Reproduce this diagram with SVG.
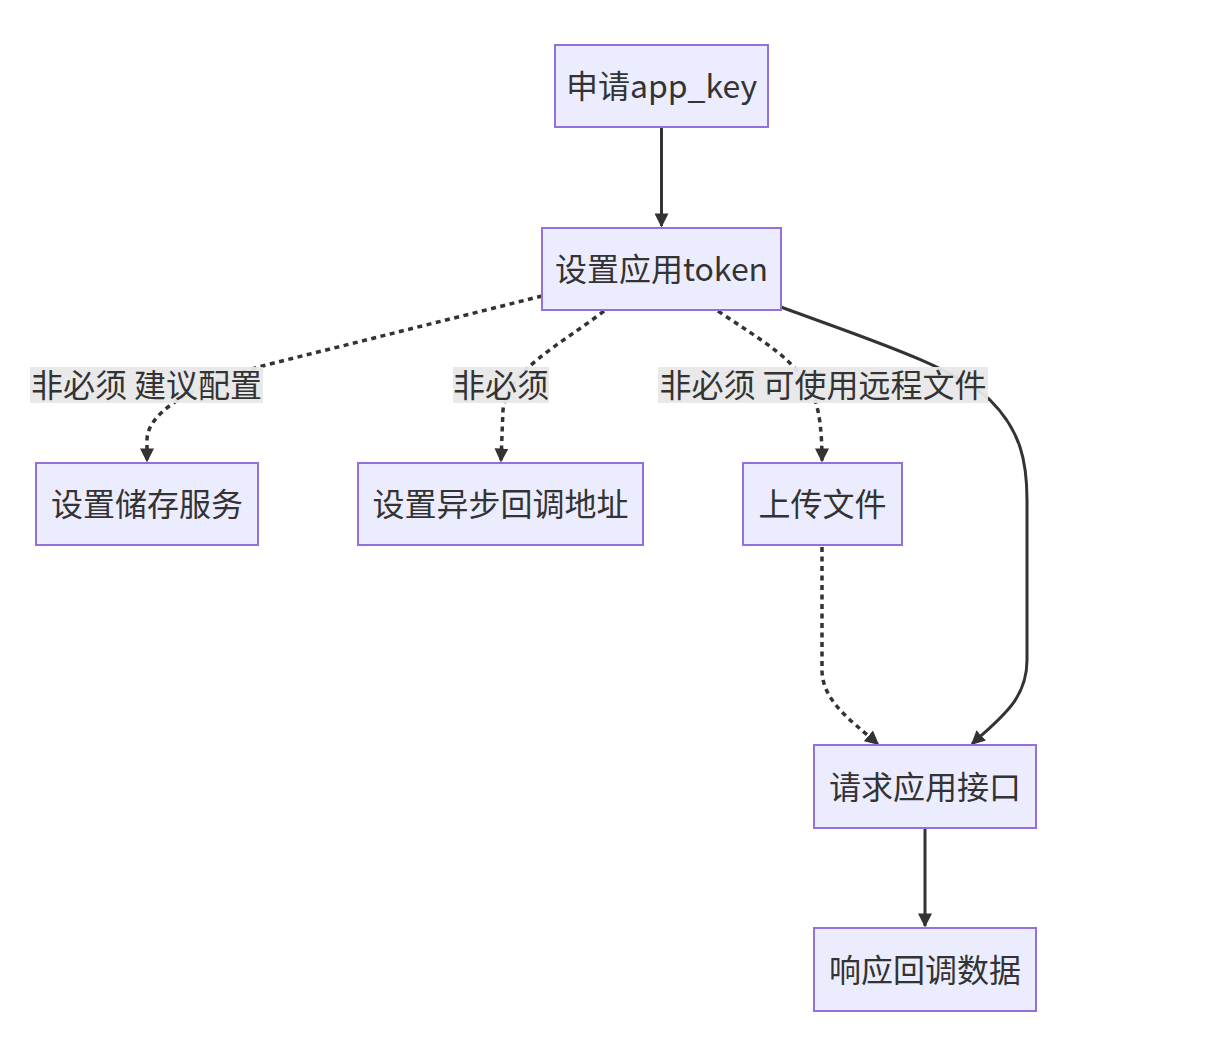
<svg xmlns="http://www.w3.org/2000/svg" width="1222" height="1054" viewBox="0 0 1222 1054">
<style>
.node rect{fill:#ECECFF;stroke:#9370DB;stroke-width:2}
text{font-family:"Noto Sans CJK SC","Noto Sans",sans-serif;font-size:32px;fill:#333;text-anchor:middle;dominant-baseline:central}
.e{fill:none;stroke:#333;stroke-width:3}
.d{stroke-width:3.5;stroke-dasharray:5 4.5}
.lb{fill:#e8e8e8;opacity:0.95}
</style>
<defs>
<marker id="ah" markerUnits="userSpaceOnUse" viewBox="0 0 10 10" refX="9" refY="5" markerWidth="14" markerHeight="14" orient="auto">
<path d="M0,0 L10,5 L0,10 z" fill="#333"/>
</marker>
</defs>
<rect width="1222" height="1054" fill="#fff"/>
<g id="edges">
<path class="e" d="M661.5,128 L661.5,226" marker-end="url(#ah)"/>
<path class="e d" d="M542,296 L270,364 C200,382 147,410 147,440 L147,461" marker-end="url(#ah)"/>
<path class="e d" d="M604,311 C560,345 508,370 503,410 L501,461" marker-end="url(#ah)"/>
<path class="e d" d="M718,311 C760,340 800,360 815,400 Q822,420 822,461" marker-end="url(#ah)"/>
<path class="e" d="M781,307 C870,340 950,365 990,400 C1020,430 1027,460 1027,500 L1027,660 C1027,700 1000,718 972,744" marker-end="url(#ah)"/>
<path class="e d" d="M822,547 L822,670 C822,700 850,720 878,744" marker-end="url(#ah)"/>
<path class="e" d="M925,829 L925,926" marker-end="url(#ah)"/>
</g>
<g id="labels">
<g id="l1"><rect class="lb" x="30" y="367" width="233" height="36"/><text x="146.5" y="383">非必须 建议配置</text></g>
<g id="l2"><rect class="lb" x="453" y="367" width="96" height="36"/><text x="501" y="383">非必须</text></g>
<g id="l3"><rect class="lb" x="658" y="367" width="330" height="36"/><text x="823" y="383">非必须 可使用远程文件</text></g>
</g>
<g id="n1" class="node"><rect x="555" y="45" width="213" height="82"/><text x="661.5" y="84">申请app_key</text></g>
<g id="n2" class="node"><rect x="542" y="228" width="239" height="82"/><text x="661.5" y="267">设置应用token</text></g>
<g id="n3" class="node"><rect x="36" y="463" width="222" height="82"/><text x="147" y="502">设置储存服务</text></g>
<g id="n4" class="node"><rect x="358" y="463" width="285" height="82"/><text x="500.5" y="502">设置异步回调地址</text></g>
<g id="n5" class="node"><rect x="743" y="463" width="159" height="82"/><text x="822.5" y="502">上传文件</text></g>
<g id="n6" class="node"><rect x="814" y="745" width="222" height="83"/><text x="925" y="784.5">请求应用接口</text></g>
<g id="n7" class="node"><rect x="814" y="928" width="222" height="83"/><text x="925" y="967.5">响应回调数据</text></g>
</svg>
